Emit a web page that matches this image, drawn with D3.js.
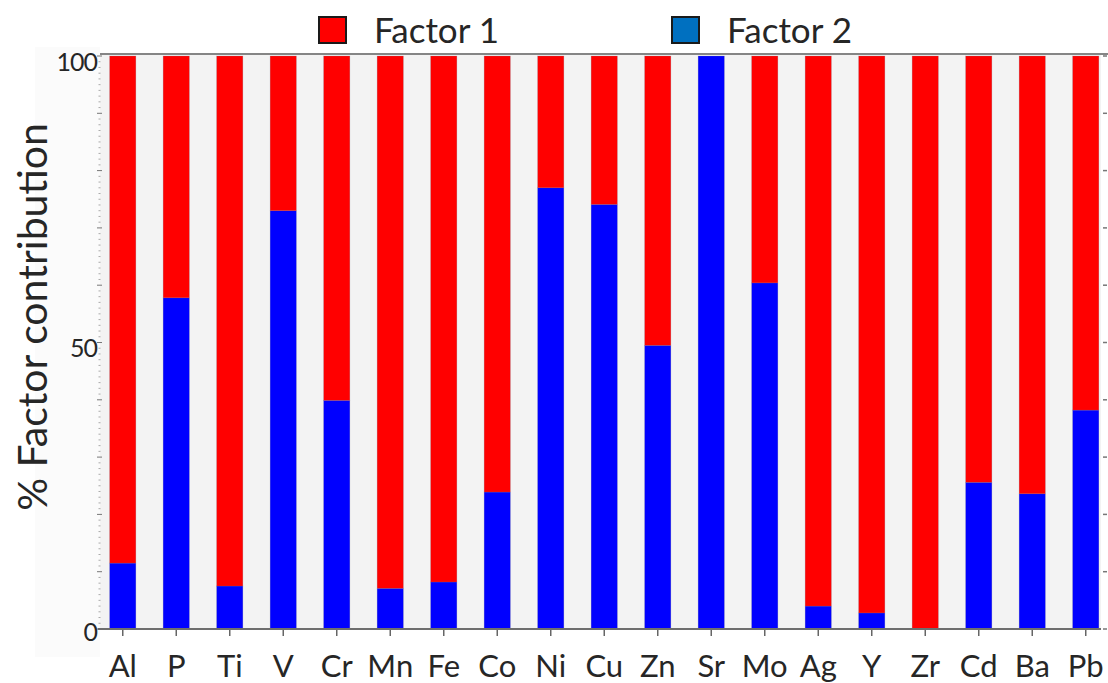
<!DOCTYPE html>
<html>
<head>
<meta charset="utf-8">
<script src="https://cdn.jsdelivr.net/npm/d3@7"></script>
<style>
  html, body { margin: 0; padding: 0; background: #ffffff; }
  svg { display: block; }
  text { font-family: Lato, "Open Sans", sans-serif; fill: #262626; }
</style>
</head>
<body>
<svg id="chart" width="1108" height="683"></svg>
<script>
// Elements on the x axis
const elements = ["Al", "P", "Ti", "V", "Cr", "Mn", "Fe", "Co", "Ni", "Cu",
                  "Zn", "Sr", "Mo", "Ag", "Y", "Zr", "Cd", "Ba", "Pb"];
// Percentage contribution of each factor per element
const factor1 = [88.5, 42.2, 92.5, 27.0, 60.1, 92.9, 91.8, 76.1, 23.0, 25.9,
                 50.5, 0, 39.6, 96.0, 97.2, 100, 74.4, 76.4, 61.8];
const factor2 = [11.5, 57.8, 7.5, 73.0, 39.9, 7.1, 8.2, 23.9, 77.0, 74.1,
                 49.5, 100, 60.4, 4.0, 2.8, 0, 25.6, 23.6, 38.2];
const seriesNames = ["Factor 1", "Factor 2"];
const yTickLabels = [0, 50, 100];

const barColors = { "Factor 1": "#ff0000", "Factor 2": "#0000ff" };
const legendColors = { "Factor 1": "#ff0000", "Factor 2": "#0070c0" };

const svg = d3.select("#chart");

const plot = { left: 100, right: 1101, top: 54, bottom: 629 };

const x = d3.scaleBand()
  .domain(elements)
  .range([96, 1112.5])
  .paddingInner(0.51)
  .paddingOuter(0.255);

const y = d3.scaleLinear()
  .domain([0, 100])
  .range([629, 56]);

// Rows for stacking: Factor 2 at the bottom, Factor 1 on top
const rows = elements.map((el, i) => ({ el, "Factor 1": factor1[i], "Factor 2": factor2[i] }));
const stack = d3.stack().keys(["Factor 2", "Factor 1"]);
const layers = stack(rows);

// faint panel behind the value axis
svg.append("rect")
  .attr("x", 35).attr("y", 47)
  .attr("width", plot.left - 35).attr("height", 610)
  .attr("fill", "#fbfbfb");

// plot background
svg.append("rect")
  .attr("x", plot.left).attr("y", plot.top)
  .attr("width", plot.right - plot.left).attr("height", plot.bottom - plot.top)
  .attr("fill", "#f3f3f3");

// stacked bars
svg.append("g").selectAll("g")
  .data(layers)
  .join("g")
  .attr("fill", d => barColors[d.key])
  .selectAll("rect")
  .data(d => d)
  .join("rect")
  .attr("x", d => x(d.data.el))
  .attr("width", x.bandwidth())
  .attr("y", d => y(d[1]))
  .attr("height", d => Math.max(0, y(d[0]) - y(d[1])))
  .attr("stroke", "rgba(120,120,140,0.35)")
  .attr("stroke-width", 0.6);

// top border
svg.append("line")
  .attr("x1", plot.left).attr("x2", 1108)
  .attr("y1", plot.top).attr("y2", plot.top)
  .attr("stroke", "#858585").attr("stroke-width", 2);

// left value axis: minor ticks every 1, medium every 10
const leftTicks = svg.append("g");
leftTicks.selectAll("line")
  .data(d3.range(0, 101, 1))
  .join("line")
  .attr("x1", d => d % 10 === 0 ? 97 : 98.5)
  .attr("x2", d => d % 10 === 0 ? 102 : 100.5)
  .attr("y1", d => y(d)).attr("y2", d => y(d))
  .attr("stroke", d => d % 10 === 0 ? "#777" : "#aaa")
  .attr("stroke-width", 1);

// tick labels on the value axis
svg.append("g").selectAll("text")
  .data(yTickLabels)
  .join("text")
  .attr("x", 97)
  .attr("y", d => y(d) + (d === 0 ? 3 : 6))
  .attr("dy", "0.35em")
  .attr("text-anchor", "end")
  .attr("font-size", 25)
  .attr("letter-spacing", -1)
  .text(d => d);

// right-hand ticks every 10
svg.append("g").selectAll("line")
  .data(d3.range(0, 101, 10))
  .join("line")
  .attr("x1", 1103).attr("x2", 1107)
  .attr("y1", d => y(d)).attr("y2", d => y(d))
  .attr("stroke", "#777").attr("stroke-width", 1.5);

// category axis
const xAxis = d3.axisBottom(x).tickSize(7).tickPadding(19);
const gx = svg.append("g")
  .attr("transform", `translate(0,${plot.bottom})`)
  .call(xAxis);
gx.select(".domain").remove();
gx.selectAll(".tick line").attr("stroke", "#666").attr("stroke-width", 1.5);
gx.selectAll(".tick text")
  .attr("font-size", 31)
  .attr("font-family", "Lato, 'Open Sans', sans-serif")
  .attr("fill", "#262626");
svg.append("line")
  .attr("x1", 98).attr("x2", plot.right)
  .attr("y1", plot.bottom).attr("y2", plot.bottom)
  .attr("stroke", "#6e6e6e").attr("stroke-width", 2);

// axis title
svg.append("text")
  .attr("transform", "translate(47,317) rotate(-90)")
  .attr("text-anchor", "middle")
  .attr("font-size", 41)
  .text("% Factor contribution");

// legend
const legendItems = [
  { name: seriesNames[0], x: 318 },
  { name: seriesNames[1], x: 671 }
];
const lg = svg.append("g").selectAll("g")
  .data(legendItems)
  .join("g")
  .attr("transform", d => `translate(${d.x},16)`);
lg.append("rect")
  .attr("x", 1).attr("y", 1)
  .attr("width", 27).attr("height", 26)
  .attr("fill", d => legendColors[d.name])
  .attr("stroke", "#1a1a1a").attr("stroke-width", 2);
lg.append("text")
  .attr("x", 56).attr("y", 27)
  .attr("font-size", 35)
  .text(d => d.name);
</script>
</body>
</html>
